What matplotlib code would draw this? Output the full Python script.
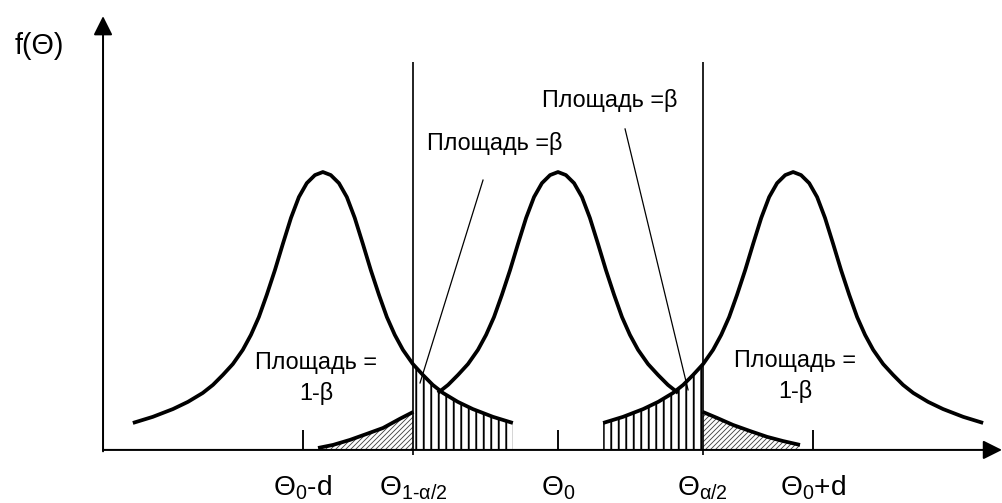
import numpy as np
import matplotlib.pyplot as plt

plt.rcParams['font.family'] = ['Liberation Sans', 'DejaVu Sans']
plt.rcParams['mathtext.fontset'] = 'custom'
plt.rcParams['mathtext.rm'] = 'Liberation Sans'
plt.rcParams['mathtext.it'] = 'Liberation Sans'
plt.rcParams['mathtext.sf'] = 'Liberation Sans'

# one half of a bell curve: distance from the peak (in units of d), height (peak = 1)
half_dx = np.array([0, 0.031, 0.063, 0.094, 0.125, 0.157, 0.188, 0.220, 0.251, 0.282,
                    0.314, 0.353, 0.392, 0.431, 0.471, 0.529, 0.588, 0.667, 0.745])
half_h = np.array([1.000, 0.989, 0.960, 0.910, 0.835, 0.741, 0.647, 0.558, 0.478, 0.414,
                   0.360, 0.309, 0.270, 0.234, 0.205, 0.173, 0.147, 0.119, 0.097])

peak_left, peak_mid, peak_right = -0.922, 0.0, 0.922
theta_lo, theta_hi = -0.567, 0.567   # Theta_{1-a/2}, Theta_{a/2}
line_top = 1.395

# outer tails of the middle curve (the 1-beta areas)
tail_l_x = np.array([-0.941, -0.882, -0.816, -0.749, -0.686, -0.620, -0.567])
tail_l_h = np.array([0.007, 0.018, 0.036, 0.058, 0.079, 0.112, 0.137])
tail_r_x = np.array([0.567, 0.624, 0.686, 0.753, 0.820, 0.882, 0.949])
tail_r_h = np.array([0.137, 0.115, 0.090, 0.068, 0.047, 0.032, 0.018])

tick_pos = [-1.0, theta_lo, 0.0, theta_hi, 1.0]
tick_labels = [r'$\Theta_0$-d', r'$\Theta_{1\text{-}\alpha/2}$', r'$\Theta_0$',
               r'$\Theta_{\alpha/2}$', r'$\Theta_0$+d']

fig = plt.figure(figsize=(1002 / 90, 503 / 90), dpi=90)
ax = fig.add_axes([0, 0, 1, 1])
ax.set_xlim(-2.188, 1.741)
ax.set_ylim(-0.191, 1.619)
ax.axis('off')

full_dx = np.concatenate([-half_dx[::-1], half_dx[1:]])
full_h = np.concatenate([half_h[::-1], half_h[1:]])
n_mid = 15  # middle curve is drawn only between the crossings
mid_dx = np.concatenate([-half_dx[:n_mid][::-1], half_dx[1:n_mid]])
mid_h = np.concatenate([half_h[:n_mid][::-1], half_h[1:n_mid]])

lw_thick = 3.0
ax.plot(peak_left + full_dx, full_h, c='black', lw=lw_thick, solid_capstyle='butt')
ax.plot(peak_mid + mid_dx, mid_h, c='black', lw=lw_thick, solid_capstyle='butt')
ax.plot(peak_right + full_dx, full_h, c='black', lw=lw_thick, solid_capstyle='butt')
ax.plot(tail_l_x, tail_l_h, c='black', lw=lw_thick, solid_capstyle='butt')
ax.plot(tail_r_x, tail_r_h, c='black', lw=lw_thick, solid_capstyle='butt')


def hatched(x, h, pattern, hlw, col):
    with plt.rc_context({'hatch.linewidth': hlw, 'hatch.color': col}):
        p = ax.fill_between(x, 0, h, facecolor='none', edgecolor=col, lw=0, hatch=pattern)
    if hasattr(p, 'set_hatch_linewidth'):
        p.set_hatch_linewidth(hlw)
    return p


# beta areas (vertical hatching)
k = 11
hatched(peak_left + half_dx[k:], half_h[k:], '||', 1.5, 'black')
hatched(peak_right - half_dx[k:], half_h[k:], '||', 1.5, 'black')
# 1-beta areas (diagonal hatching)
hatched(tail_l_x, tail_l_h, '//////', 0.7, '#444444')
hatched(tail_r_x, tail_r_h, '//////', 0.7, '#444444')

# critical values
ax.vlines([theta_lo, theta_hi], -0.018, line_top, color='black', lw=1.35)
# ticks
ax.vlines([-1.0, 0.0, 1.0], 0, 0.072, color='black', lw=1.5)

# axes with arrows
ax.annotate('', xy=(1.741, 0), xytext=(-1.784, 0),
            arrowprops=dict(arrowstyle='-|>,head_length=0.4,head_width=0.2', color='black',
                            lw=1.6, mutation_scale=32, shrinkA=0, shrinkB=0))
ax.annotate('', xy=(-1.784, 1.561), xytext=(-1.784, -0.005),
            arrowprops=dict(arrowstyle='-|>,head_length=0.4,head_width=0.2', color='black',
                            lw=1.6, mutation_scale=32, shrinkA=0, shrinkB=0))

# pointers to the beta areas
ax.plot([-0.294, -0.541], [0.971, 0.241], c='black', lw=1.0)
ax.plot([0.263, 0.510], [1.155, 0.216], c='black', lw=1.0)

fs = 18.7
ax.text(-0.247, 1.101, 'Площадь =β', ha='center', va='center', fontsize=fs)
ax.text(0.204, 1.259, 'Площадь =β', ha='center', va='center', fontsize=fs)
ax.text(-0.949, 0.259, 'Площадь =\n1-β', ha='center', va='center', fontsize=fs,
        multialignment='center', linespacing=1.4)
ax.text(0.929, 0.266, 'Площадь =\n1-β', ha='center', va='center', fontsize=fs,
        multialignment='center', linespacing=1.4)

ax.text(-2.035, 1.453, 'f(Θ)', ha='center', va='center', fontsize=23)
for xp, lab in zip(tick_pos, tick_labels):
    ax.text(xp, -0.165, lab, ha='center', va='baseline', fontsize=22.5)

fig.savefig('out.png', dpi=90)
